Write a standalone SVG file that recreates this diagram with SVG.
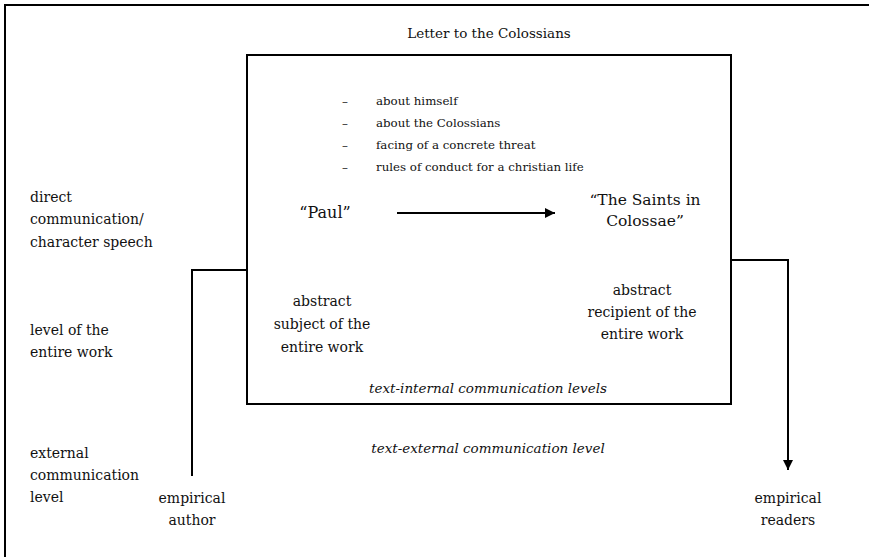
<svg xmlns="http://www.w3.org/2000/svg" width="869" height="557" viewBox="0 0 869 557">
<defs>
<style>
text{font-family:"DejaVu Serif","Liberation Serif",serif;fill:#111}
.lab{font-size:14px}
.mid{text-anchor:middle}
.li{font-size:11.8px}
.it{font-style:italic;font-size:13.5px;text-anchor:middle}
.ln{fill:none;stroke:#000;stroke-width:2}
</style>
<marker id="ah" viewBox="0 0 10 10" refX="10" refY="5" markerWidth="10" markerHeight="10" markerUnits="userSpaceOnUse" orient="auto">
<path d="M0,0 L10,5 L0,10 z" fill="#000"/>
</marker>
</defs>
<rect id="frame" x="5" y="5" width="880" height="570" fill="#fff" stroke="#000" stroke-width="2"/>
<g id="title"><text class="lab mid" x="489" y="38" style="font-size:13.5px">Letter to the Colossians</text></g>
<g id="letter-box">
<rect x="247" y="55" width="484" height="349" fill="none" stroke="#000" stroke-width="2"/>
</g>
<g id="topics">
<text class="li" x="342" y="105">–</text><text class="li" x="376" y="105">about himself</text>
<text class="li" x="342" y="127">–</text><text class="li" x="376" y="127">about the Colossians</text>
<text class="li" x="342" y="149">–</text><text class="li" x="376" y="149">facing of a concrete threat</text>
<text class="li" x="342" y="171">–</text><text class="li" x="376" y="171">rules of conduct for a christian life</text>
</g>
<g id="paul"><text class="mid" x="325" y="218" style="font-size:16px">“Paul”</text></g>
<g id="saints"><text class="mid" x="645" y="205" style="font-size:15.5px">“The Saints in</text><text class="mid" x="645" y="226" style="font-size:15.5px">Colossae”</text></g>
<g id="abstract-subject"><text class="lab mid" x="322" y="306">abstract</text><text class="lab mid" x="322" y="329">subject of the</text><text class="lab mid" x="322" y="352">entire work</text></g>
<g id="abstract-recipient"><text class="lab mid" x="642" y="295">abstract</text><text class="lab mid" x="642" y="317">recipient of the</text><text class="lab mid" x="642" y="339">entire work</text></g>
<g id="internal-label"><text class="it" x="488" y="393">text-internal communication levels</text></g>
<g id="external-label"><text class="it" x="488" y="453">text-external communication level</text></g>
<g id="level-labels">
<text class="lab" x="30" y="202">direct</text>
<text class="lab" x="30" y="224">communication/</text>
<text class="lab" x="30" y="247">character speech</text>
<text class="lab" x="30" y="335">level of the</text>
<text class="lab" x="30" y="357">entire work</text>
<text class="lab" x="30" y="458">external</text>
<text class="lab" x="30" y="480">communication</text>
<text class="lab" x="30" y="502">level</text>
</g>
<g id="empirical-author"><text class="lab mid" x="192" y="503">empirical</text><text class="lab mid" x="192" y="525">author</text></g>
<g id="empirical-readers"><text class="lab mid" x="788" y="503">empirical</text><text class="lab mid" x="788" y="525">readers</text></g>
<g id="connectors">
<path class="ln" d="M397,213 H555" marker-end="url(#ah)"/>
<path class="ln" d="M247,270 H192 V476"/>
<path class="ln" d="M731,260 H788 V470" marker-end="url(#ah)"/>
</g>
</svg>
